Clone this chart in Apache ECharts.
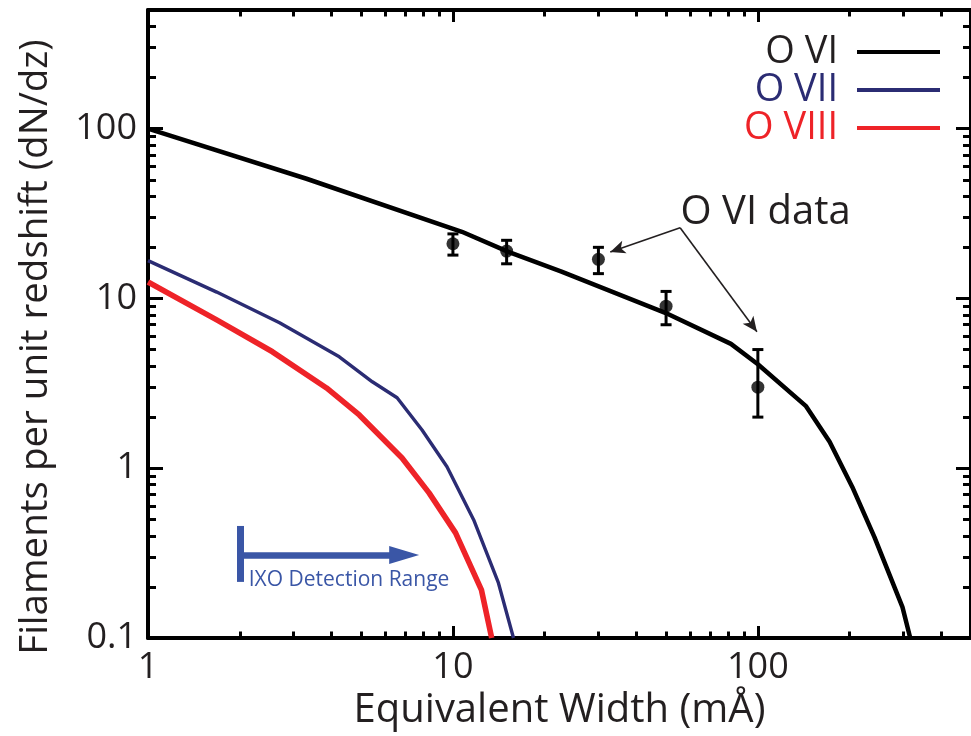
<!DOCTYPE html>
<html>
<head>
<meta charset="utf-8">
<script src="https://cdn.jsdelivr.net/npm/echarts@6/dist/echarts.min.js"></script>
<style>html,body{margin:0;padding:0;background:#fff}#c{width:971px;height:736px}</style>
</head>
<body>
<div id="c"></div>
<script>
// ---- data ----
const ewOVI = [1, 3.31, 10.7, 15.2, 22.7, 49.7, 81.6, 100, 143.5, 171.9, 204, 241, 298, 316];
const dnOVI = [100, 50.7, 24.7, 18.8, 14.4, 8.23, 5.40, 4.1, 2.33, 1.43, 0.776, 0.394, 0.152, 0.1];
const ewOVII = [1, 1.68, 2.70, 4.24, 5.44, 6.56, 7.92, 9.56, 11.7, 14.1, 15.8];
const dnOVII = [16.7, 10.9, 7.19, 4.53, 3.23, 2.60, 1.68, 1.02, 0.496, 0.211, 0.1];
const ewOVIII = [1, 1.68, 2.56, 3.85, 4.93, 6.81, 8.35, 10.2, 12.4, 13.4];
const dnOVIII = [12.5, 7.48, 4.85, 2.97, 2.06, 1.15, 0.716, 0.416, 0.192, 0.1];
const obsEW = [10, 15, 30, 50, 100];
const obsDN = [21, 19, 17, 9, 3];
const obsLow = [18, 16, 14, 7, 2];
const obsHigh = [24, 22, 20, 11, 5];
const xMajor = [1, 10, 100];
const xMinor = [2,3,4,5,6,7,8,9,20,30,40,50,60,70,80,90,200,300,400];
const yMajor = [0.1, 1, 10, 100];
const yMinor = [0.2,0.3,0.4,0.5,0.6,0.7,0.8,0.9,2,3,4,5,6,7,8,9,20,30,40,50,60,70,80,90,200,300,400];
const xLabels = ['1', '10', '100'];
const yLabels = ['0.1', '1', '10', '100'];
const seriesNames = ['O VI', 'O VII', 'O VIII'];
// annotation anchor points (data coordinates)
const ixoStart = [2, 0.308];
const ixoEnd = [6.92, 0.308];
const ixoBarTop = [2, 0.457];
const ixoBarBottom = [2, 0.214];
const ixoTextAt = [2.14, 0.22];
const noteApex = [55.6, 26.1];
const noteTip1 = [32.8, 18.8];
const noteTip2 = [99.3, 6.36];
const noteTextAt = [55.8, 32.0];

const FONT = "'Open Sans', 'Noto Sans', sans-serif";
const TXT = '#231f20';
const C_VI = '#000000', C_VII = '#2b2c73', C_VIII = '#ee2328', C_IXO = '#3a56a6';

function zip(a, b) { return a.map((v, i) => [v, b[i]]); }

function xAxisDef(pos, ticks, len, showLine, showLabel) {
  return {
    type: 'log', logBase: 10, min: 1, max: 500, position: pos, gridIndex: 0,
    axisLine: { show: showLine, lineStyle: { color: '#000', width: 4 } },
    axisTick: { show: true, inside: true, length: len, customValues: ticks, lineStyle: { color: '#000', width: 3 } },
    axisLabel: showLabel ? {
      show: true, customValues: xMajor, margin: 12,
      formatter: v => xLabels[xMajor.indexOf(v)] !== undefined ? xLabels[xMajor.indexOf(v)] : String(v),
      fontSize: 36, color: TXT, fontFamily: FONT
    } : { show: false },
    splitLine: { show: false }, minorTick: { show: false }, minorSplitLine: { show: false },
    name: showLabel ? 'Equivalent Width (mÅ)' : '',
    nameLocation: 'middle', nameGap: 48,
    nameTextStyle: { fontSize: 40, color: TXT, fontFamily: FONT }
  };
}
function yAxisDef(pos, ticks, len, showLine, showLabel) {
  return {
    type: 'log', logBase: 10, min: 0.1, max: 500, position: pos, gridIndex: 0,
    axisLine: { show: showLine, lineStyle: { color: '#000', width: 4 } },
    axisTick: { show: true, inside: true, length: len, customValues: ticks, lineStyle: { color: '#000', width: 3 } },
    axisLabel: showLabel ? {
      show: true, customValues: yMajor, margin: 11,
      formatter: v => { const i = yMajor.findIndex(m => Math.abs(m - v) < 1e-9 * Math.max(1, m)); return i >= 0 ? yLabels[i] : String(v); },
      fontSize: 36, color: TXT, fontFamily: FONT
    } : { show: false },
    splitLine: { show: false }, minorTick: { show: false }, minorSplitLine: { show: false },
    name: showLabel ? 'Filaments per unit redshift (dN/dz)' : '',
    nameLocation: 'middle', nameGap: 92,
    nameTextStyle: { fontSize: 38.5, color: TXT, fontFamily: FONT, padding: [0, 46, 0, 0] }
  };
}

const chart = echarts.init(document.getElementById('c'), null, { renderer: 'canvas' });
chart.setOption({
  animation: false,
  backgroundColor: '#fff',
  grid: { left: 148, right: -3, top: 10, bottom: 98, containLabel: false },
  xAxis: [
    xAxisDef('bottom', xMajor, 12, true, true),
    xAxisDef('bottom', xMinor, 6.5, false, false),
    xAxisDef('top', xMajor, 12, true, false),
    xAxisDef('top', xMinor, 6.5, false, false)
  ],
  yAxis: [
    yAxisDef('left', yMajor, 15, true, true),
    yAxisDef('left', yMinor, 8, false, false),
    yAxisDef('right', yMajor, 15, true, false),
    yAxisDef('right', yMinor, 8, false, false)
  ],
  legend: {
    orient: 'vertical', right: 26, top: 28, align: 'right',
    icon: 'rect', itemWidth: 83, itemHeight: 4, itemGap: 0,
    textStyle: { fontSize: 38, fontFamily: FONT, padding: [0, 14, 0, 0] },
    data: [
      { name: seriesNames[0], textStyle: { color: TXT } },
      { name: seriesNames[1], textStyle: { color: C_VII } },
      { name: seriesNames[2], textStyle: { color: C_VIII } }
    ],
    selectedMode: false
  },
  series: [
    {
      name: seriesNames[0], type: 'line', xAxisIndex: 0, yAxisIndex: 0,
      data: zip(ewOVI, dnOVI), showSymbol: false, symbol: 'none', clip: true,
      color: C_VI, lineStyle: { color: C_VI, width: 4.5, join: 'round' }, z: 3,
      markLine: {
        silent: true, symbol: ['none', 'arrow'], symbolSize: [10, 15],
        lineStyle: { color: TXT, width: 1.6, type: 'solid' }, label: { show: false },
        data: [
          [{ coord: noteApex }, { coord: noteTip1 }],
          [{ coord: noteApex }, { coord: noteTip2 }]
        ]
      },
      markPoint: {
        silent: true, symbol: 'circle', symbolSize: 0,
        data: [
          { coord: noteTextAt, label: { show: true, position: 'right', distance: 0, formatter: 'O VI data', fontSize: 40, color: TXT, fontFamily: FONT } },
          { coord: ixoTextAt, label: { show: true, position: 'right', distance: 0, formatter: 'IXO Detection Range', fontSize: 21, color: C_IXO, fontFamily: FONT } }
        ]
      }
    },
    {
      name: seriesNames[1], type: 'line', data: zip(ewOVII, dnOVII), showSymbol: false, symbol: 'none',
      color: C_VII, lineStyle: { color: C_VII, width: 3.4, join: 'round' }, z: 3,
      markLine: {
        silent: true, symbol: ['none', 'triangle'], symbolSize: [18, 30],
        lineStyle: { color: C_IXO, width: 6.5, type: 'solid' }, label: { show: false },
        data: [[{ coord: ixoStart }, { coord: ixoEnd }]]
      }
    },
    {
      name: seriesNames[2], type: 'line', data: zip(ewOVIII, dnOVIII), showSymbol: false, symbol: 'none',
      color: C_VIII, lineStyle: { color: C_VIII, width: 5.6, join: 'round' }, z: 3,
      markLine: {
        silent: true, symbol: ['none', 'none'],
        lineStyle: { color: C_IXO, width: 7, type: 'solid', cap: 'butt' }, label: { show: false },
        data: [[{ coord: ixoBarTop }, { coord: ixoBarBottom }]]
      }
    },
    {
      name: 'O VI data', type: 'scatter', data: zip(obsEW, obsDN),
      symbol: 'circle', symbolSize: 13, itemStyle: { color: '#000' }, z: 5
    },
    {
      name: 'O VI errors', type: 'custom', z: 4,
      data: obsEW.map((x, i) => [x, obsLow[i], obsHigh[i]]),
      encode: { x: 0, y: [1, 2] },
      renderItem: function (params, api) {
        const lo = api.coord([api.value(0), api.value(1)]);
        const hi = api.coord([api.value(0), api.value(2)]);
        const hw = 5.5;
        const st = { stroke: '#000', lineWidth: 3, fill: null };
        return {
          type: 'group', children: [
            { type: 'line', shape: { x1: lo[0], y1: lo[1], x2: hi[0], y2: hi[1] }, style: st },
            { type: 'line', shape: { x1: lo[0] - hw, y1: lo[1], x2: lo[0] + hw, y2: lo[1] }, style: st },
            { type: 'line', shape: { x1: hi[0] - hw, y1: hi[1], x2: hi[0] + hw, y2: hi[1] }, style: st }
          ]
        };
      }
    }
  ]
});
</script>
</body>
</html>
